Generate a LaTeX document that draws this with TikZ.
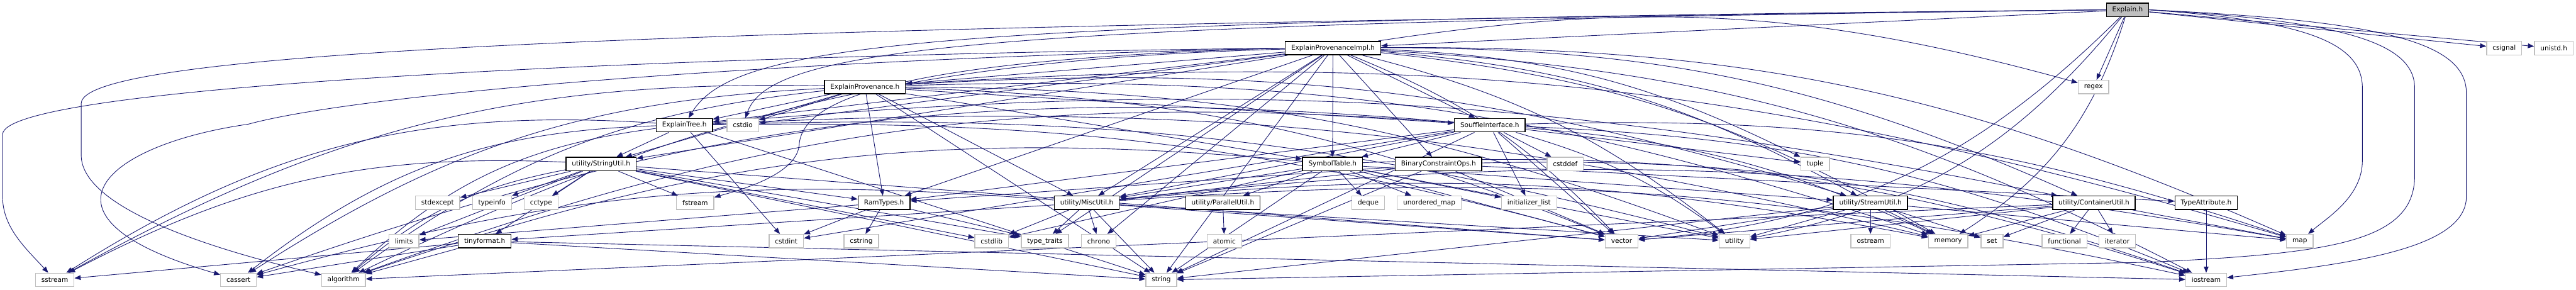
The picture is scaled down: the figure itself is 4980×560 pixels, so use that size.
\documentclass[tikz,border=0pt]{standalone}
\usepackage{fontspec}
\setmainfont{DejaVu Sans}
\usepackage{tikz}
\usetikzlibrary{arrows.meta,backgrounds}
\definecolor{DoxyEdge}{RGB}{25,25,112}
\definecolor{DoxyRoot}{RGB}{191,191,191}
\definecolor{DoxyLine}{RGB}{191,191,191}

\begin{document}
\begin{tikzpicture}[
    x=0.2pt, y=-0.2pt,
    hdr/.style={draw=black, fill=white, line width=0.36pt, minimum height=5.2pt, inner xsep=2.28pt, inner ysep=0pt, font=\fontsize{2.56}{3.04}\selectfont},
    sys/.style={hdr, draw=DoxyLine, line width=0.32pt},
    root/.style={hdr, fill=DoxyRoot},
    dep/.style={-{Triangle[length=2.4pt,width=1.84pt]}, line width=0.22pt, draw=DoxyEdge}
  ]
    \useasboundingbox (0,0) rectangle (4980,560);
    \node[root] (explain) at (4113,19) {Explain.h};
    \node[hdr] (provimpl) at (2577,93) {ExplainProvenanceImpl.h};
    \node[sys] (csignal) at (4841,93) {csignal};
    \node[sys] (unistd) at (4937,93) {unistd.h};
    \node[hdr] (prov) at (1672,168) {ExplainProvenance.h};
    \node[sys] (regex) at (4047,168) {regex};
    \node[hdr] (tree) at (1323,242) {ExplainTree.h};
    \node[sys] (cstdio) at (1436,242) {cstdio};
    \node[hdr] (iface) at (2880,242) {SouffleInterface.h};
    \node[hdr] (strutil) at (1162,317) {utility/StringUtil.h};
    \node[hdr] (symtab) at (2576,317) {SymbolTable.h};
    \node[hdr] (binops) at (2781,317) {BinaryConstraintOps.h};
    \node[sys] (cstddef) at (3026,317) {cstddef};
    \node[sys] (tuple) at (3509,317) {tuple};
    \node[sys] (stdexcept) at (846,392) {stdexcept};
    \node[sys] (typeinfo) at (951,392) {typeinfo};
    \node[sys] (cctype) at (1046,392) {cctype};
    \node[sys] (fstream) at (1344,392) {fstream};
    \node[hdr] (ramtypes) at (1709,392) {RamTypes.h};
    \node[hdr] (miscutil) at (2101,392) {utility/MiscUtil.h};
    \node[hdr] (parutil) at (2364,392) {utility/ParallelUtil.h};
    \node[sys] (deque) at (2645,392) {deque};
    \node[sys] (unordmap) at (2763,392) {unordered\_map};
    \node[sys] (initlist) at (2956,392) {initializer\_list};
    \node[hdr] (streamutil) at (3616,392) {utility/StreamUtil.h};
    \node[hdr] (contutil) at (4048,392) {utility/ContainerUtil.h};
    \node[hdr] (typeattr) at (4265,392) {TypeAttribute.h};
    \node[sys] (limits) at (781,466) {limits};
    \node[hdr] (tinyfmt) at (937,466) {tinyformat.h};
    \node[sys] (cstdint) at (1520,466) {cstdint};
    \node[sys] (cstring) at (1665,466) {cstring};
    \node[sys] (cstdlib) at (1917,466) {cstdlib};
    \node[sys] (typetraits) at (2020,466) {type\_traits};
    \node[sys] (chrono) at (2124,466) {chrono};
    \node[sys] (atomic) at (2367,466) {atomic};
    \node[sys] (vector) at (3135,466) {vector};
    \node[sys] (utility) at (3353,466) {utility};
    \node[sys] (ostream) at (3616,466) {ostream};
    \node[sys] (memory) at (3766,466) {memory};
    \node[sys] (set) at (3851,466) {set};
    \node[sys] (functional) at (3991,466) {functional};
    \node[sys] (iterator) at (4093,466) {iterator};
    \node[sys] (map) at (4446,466) {map};
    \node[sys] (sstream) at (106,541) {sstream};
    \node[sys] (cassert) at (461,541) {cassert};
    \node[sys] (algorithm) at (664,541) {algorithm};
    \node[sys] (string) at (2245,541) {string};
    \node[sys] (iostream) at (4265,541) {iostream};
    \begin{scope}[on background layer]
    \foreach \b in {provimpl,regex,csignal,unistd} {\draw[dep] (explain) -- (\b);}
    \foreach \b in {memory,vector,utility} {\draw[dep] (explain) to[bend left=20] (\b);}
    \draw[dep] (explain.west) .. controls (1500,50) and (157,90) .. (157,200) -- (157,300) .. controls (157,400) and (400,480) .. (algorithm);
    \draw[dep] (explain.west) .. controls (1800,40) and (1420,80) .. (tree);
    \draw[dep] (explain.west) .. controls (1900,45) and (1490,90) .. (cstdio);
    \draw[dep] (explain.east) .. controls (4450,40) and (4567,80) .. (4567,170) -- (4567,310) .. controls (4567,380) and (4500,420) .. (map);
    \draw[dep] (explain.east) .. controls (4520,40) and (4668,80) .. (4668,170) -- (4668,340) .. controls (4668,470) and (4500,490) .. (4150,507) -- (string);
    \draw[dep] (explain.east) .. controls (4600,40) and (4768,80) .. (4768,180) -- (4768,380) .. controls (4768,480) and (4550,510) .. (iostream);
    \foreach \b in {prov,tree,cstdio,iface,symtab,binops,ramtypes,miscutil,strutil,chrono,typetraits,string} {\draw[dep] (provimpl) -- (\b);}
    \foreach \b in {streamutil,contutil,regex,tuple,memory,utility,vector,map,iostream} {\draw[dep] (provimpl) to[bend left=12] (\b);}
    \draw[dep] (provimpl) to[bend right=12] (algorithm);
    \draw[dep] (provimpl.west) .. controls (1400,105) and (5,160) .. (5,260) -- (5,380) .. controls (5,440) and (50,480) .. (sstream);
    \draw[dep] (provimpl.west) .. controls (1500,115) and (700,180) .. (480,240) .. controls (200,280) and (40,420) .. (cassert);
    \draw[dep] (provimpl.west) .. controls (1700,115) and (1550,200) .. (1545,280) .. controls (1540,340) and (1420,370) .. (fstream);
    \foreach \b in {tree,cstdio,ramtypes,iface,symtab,miscutil,strutil,string} {\draw[dep] (prov) -- (\b);}
    \foreach \b in {streamutil,map,memory,utility,vector} {\draw[dep] (prov) to[bend left=10] (\b);}
    \foreach \b in {algorithm,cassert,sstream} {\draw[dep] (prov) to[bend right=15] (\b);}
    \foreach \b in {strutil,cstdint,string} {\draw[dep] (tree) -- (\b);}
    \foreach \b in {contutil,memory,utility,vector} {\draw[dep] (tree) to[bend left=8] (\b);}
    \foreach \b in {algorithm,cassert,sstream} {\draw[dep] (tree) to[bend right=18] (\b);}
    \foreach \b in {ramtypes,symtab,miscutil,cstddef,cstdint,initlist,tuple,string,vector} {\draw[dep] (iface) -- (\b);}
    \foreach \b in {iostream,map,memory,utility} {\draw[dep] (iface) to[bend left=10] (\b);}
    \foreach \b in {algorithm,cassert} {\draw[dep] (iface) to[bend right=12] (\b);}
    \foreach \b in {miscutil,parutil,streamutil,cstdlib,deque,initlist,string,unordmap,utility,vector} {\draw[dep] (symtab) -- (\b);}
    \draw[dep] (symtab) to[bend left=10] (iostream);
    \draw[dep] (symtab) to[bend right=12] (algorithm);
    \foreach \b in {ramtypes,typeattr,miscutil,string,vector} {\draw[dep] (binops) -- (\b);}
    \draw[dep] (binops) to[bend left=10] (iostream);
    \foreach \b in {cstdint,cstring,limits,typetraits} {\draw[dep] (ramtypes) -- (\b);}
    \foreach \b in {tinyfmt,chrono,cstdlib,typetraits,utility,string,vector} {\draw[dep] (miscutil) -- (\b);}
    \foreach \b in {iostream,map,memory} {\draw[dep] (miscutil) to[bend left=8] (\b);}
    \draw[dep] (miscutil) to[bend right=10] (cassert);
    \draw[dep] (parutil) -- (atomic);
    \foreach \b in {map,memory,ostream,set,string,utility,vector} {\draw[dep] (streamutil) -- (\b);}
    \foreach \b in {algorithm,functional,iterator,map,memory,set,utility,vector} {\draw[dep] (contutil) -- (\b);}
    \foreach \b in {ramtypes,tinyfmt,cctype,cstdlib,fstream,limits,stdexcept,string,typetraits,typeinfo,vector} {\draw[dep] (strutil) -- (\b);}
    \foreach \b in {sstream,algorithm} {\draw[dep] (strutil) to[bend right=15] (\b);}
    \draw[dep] (typeattr) -- (iostream);
    \foreach \b in {algorithm,cassert,sstream,iostream,string} {\draw[dep] (tinyfmt) -- (\b);}
    \end{scope}
  \end{tikzpicture}
\end{document}
